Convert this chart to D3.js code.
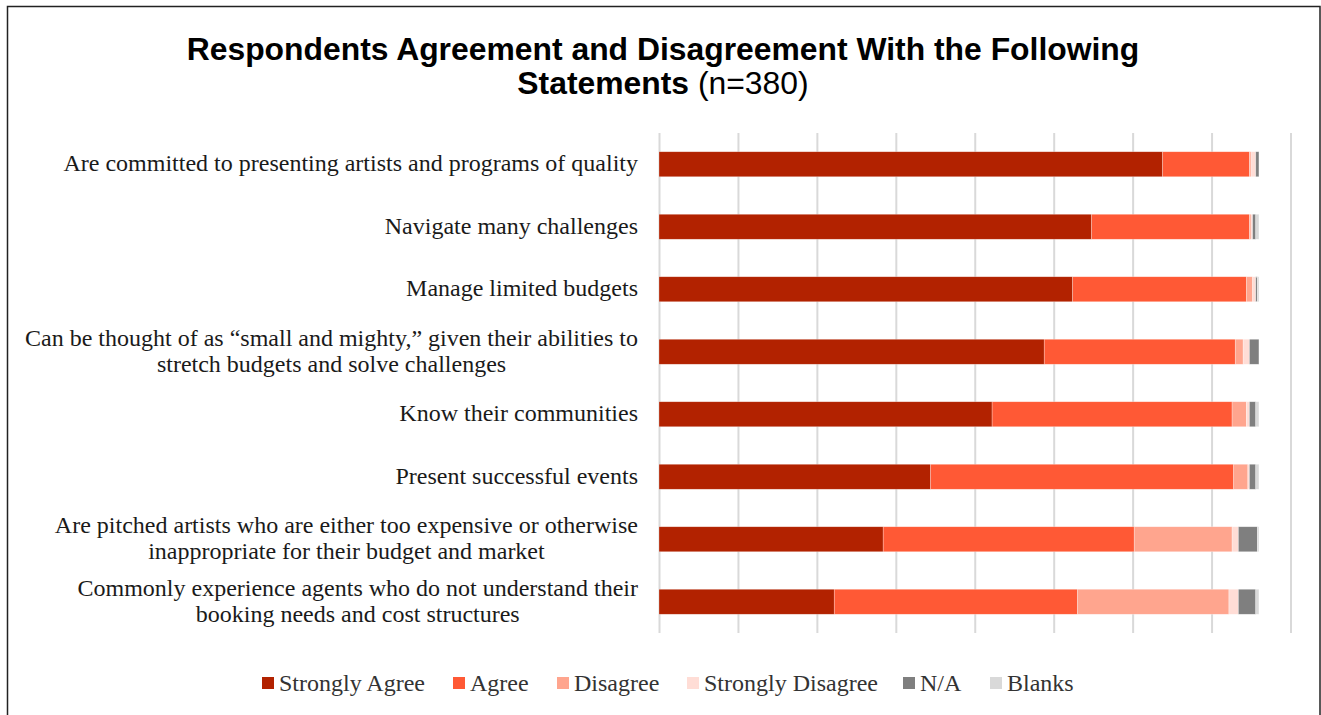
<!DOCTYPE html>
<html>
<head>
<meta charset="utf-8">
<script src="https://cdn.jsdelivr.net/npm/d3@7"></script>
<style>
  html, body { margin: 0; padding: 0; background: #fff; }
  svg { display: block; }
</style>
</head>
<body>
<svg id="chart" width="1321" height="715"></svg>
<script>
// Statements (one row each; "\n" splits a label over two lines)
const statements = [
  "Are committed to presenting artists and programs of quality",
  "Navigate many challenges",
  "Manage limited budgets",
  "Can be thought of as \u201csmall and mighty,\u201d given their abilities to\nstretch budgets and solve challenges",
  "Know their communities",
  "Present successful events",
  "Are pitched artists who are either too expensive or otherwise\ninappropriate for their budget and market",
  "Commonly experience agents who do not understand their\nbooking needs and cost structures"
];

// Response categories (stack order)
const responses = ["Strongly Agree", "Agree", "Disagree", "Strongly Disagree", "N/A", "Blanks"];

// Respondent counts per statement, one array per response
const stronglyAgree    = [319, 274, 262, 244, 211, 172, 142, 111];
const agree            = [ 55, 100, 110, 121, 152, 192, 159, 154];
const disagree         = [  1,   1,   4,   5,   9,   9,  62,  96];
const stronglyDisagree = [  3,   1,   2,   4,   2,   1,   4,   6];
const notApplicable    = [  2,   2,   1,   6,   4,   4,  12,  11];
const blanks           = [  0,   2,   1,   0,   2,   2,   1,   2];

// Value axis ticks (gridlines only, no labels)
const axisTicks = [0, 50, 100, 150, 200, 250, 300, 350, 400];

const colors = ["#B22200", "#FF5935", "#FFA58E", "#FFDDD6", "#7F7F7F", "#D9D9D9"];

const rows = statements.map((s, i) => ({
  statement: s,
  "Strongly Agree": stronglyAgree[i],
  "Agree": agree[i],
  "Disagree": disagree[i],
  "Strongly Disagree": stronglyDisagree[i],
  "N/A": notApplicable[i],
  "Blanks": blanks[i]
}));

const svg = d3.select("#chart");

// outer frame
svg.append("rect")
  .attr("x", 7.5).attr("y", 6.5)
  .attr("width", 1312.5).attr("height", 730)
  .attr("fill", "none").attr("stroke", "#222").attr("stroke-width", 1.5);

// title, two centred lines, narrowed slightly to fit its box
const titleCx = 663;
const titleG = svg.append("g")
  .attr("font-family", "Liberation Sans, Arial, sans-serif")
  .attr("font-size", 32)
  .attr("fill", "#000");
const line1 = titleG.append("text")
  .attr("x", titleCx).attr("y", 60)
  .attr("text-anchor", "middle")
  .attr("font-weight", "bold")
  .text("Respondents Agreement and Disagreement With the Following");
const line2 = titleG.append("text")
  .attr("x", titleCx).attr("y", 94)
  .attr("text-anchor", "middle");
line2.append("tspan").attr("font-weight", "bold").text("Statements");
line2.append("tspan").attr("font-weight", "normal").text(" (n=380)");
const w1 = line1.node().getComputedTextLength();
const sx = Math.min(1, 953 / w1);
titleG.attr("transform", `translate(${titleCx},0) scale(${sx},1) translate(${-titleCx},0)`);

// plot area
const plot = { left: 659, right: 1290.5, top: 133, bottom: 633 };

const x = d3.scaleLinear().domain([0, 400]).range([plot.left, plot.right]);
const y = d3.scaleBand()
  .domain(d3.range(statements.length))
  .range([plot.top, plot.bottom])
  .paddingInner(0.6).paddingOuter(0.3);

// gridlines
svg.append("g")
  .attr("transform", `translate(0,${plot.bottom})`)
  .call(d3.axisBottom(x).tickValues(axisTicks).tickSize(-(plot.bottom - plot.top)).tickFormat(""))
  .call(g => g.select(".domain").remove())
  .call(g => g.selectAll(".tick line").attr("stroke", "#D9D9D9").attr("stroke-width", 2));

// stacked bars
const stack = d3.stack().keys(responses)(rows);
const color = d3.scaleOrdinal().domain(responses).range(colors);

svg.append("g")
  .selectAll("g")
  .data(stack)
  .join("g")
  .attr("fill", d => color(d.key))
  .selectAll("rect")
  .data(d => d.map((v, i) => ({ v, i })))
  .join("rect")
  .attr("x", d => x(d.v[0]))
  .attr("y", d => y(d.i))
  .attr("width", d => Math.max(0, x(d.v[1]) - x(d.v[0])))
  .attr("height", y.bandwidth())
  .attr("stroke", "#fff").attr("stroke-opacity", 0.45).attr("stroke-width", 0.6);

// category labels: the block is right-aligned, its lines centred on each other
const labelRight = 638;
const labels = svg.append("g")
  .attr("font-family", "Liberation Serif, Times New Roman, serif")
  .attr("font-size", 24)
  .attr("fill", "#1a1a1a");

statements.forEach((s, i) => {
  const lines = s.split("\n");
  const cy = y(i) + y.bandwidth() / 2;
  const lh = 26;
  const t = labels.append("text").attr("text-anchor", "middle");
  const spans = lines.map((ln, k) => t.append("tspan")
    .attr("y", cy + (k - (lines.length - 1) / 2) * lh + 7)
    .text(ln));
  const widest = d3.max(spans, sp => sp.node().getComputedTextLength());
  spans.forEach(sp => sp.attr("x", labelRight - widest / 2));
});

// legend
const legendX = [262, 453, 557, 687, 903, 990];
const legend = svg.append("g")
  .attr("font-family", "Liberation Serif, Times New Roman, serif")
  .attr("font-size", 24)
  .attr("fill", "#333");
responses.forEach((r, i) => {
  legend.append("rect")
    .attr("x", legendX[i]).attr("y", 677)
    .attr("width", 12).attr("height", 12)
    .attr("fill", color(r));
  legend.append("text")
    .attr("x", legendX[i] + 17).attr("y", 691)
    .text(r);
});
</script>
</body>
</html>
